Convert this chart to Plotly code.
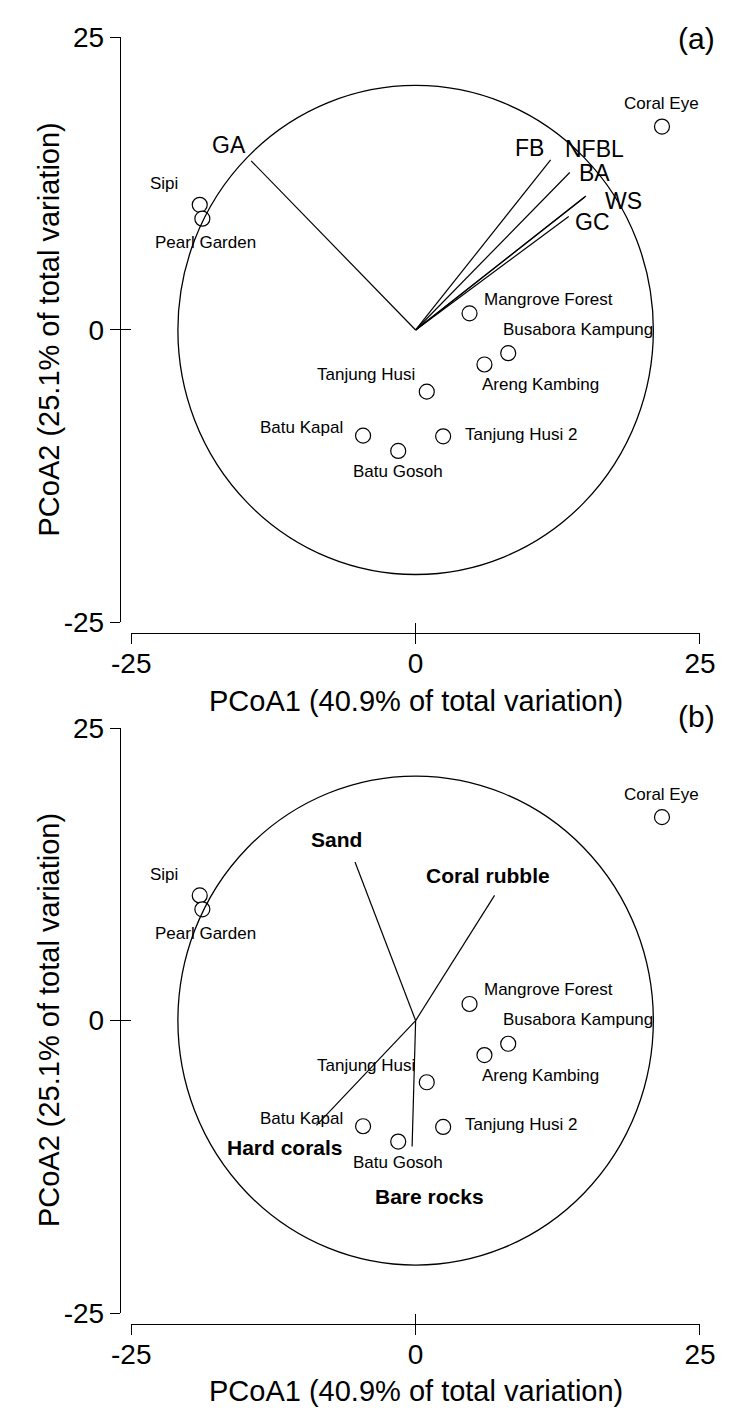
import plotly.graph_objects as go

W, H = 735, 1422

# Site scores on the first two principal coordinates
sites = ["Coral Eye", "Sipi", "Pearl Garden", "Mangrove Forest", "Busabora Kampung",
         "Areng Kambing", "Tanjung Husi", "Batu Kapal", "Batu Gosoh", "Tanjung Husi 2"]
pco1 = [21.66, -18.98, -18.75, 4.74, 8.14, 6.05, 0.98, -4.62, -1.53, 2.42]
pco2 = [17.39, 10.70, 9.51, 1.42, -1.98, -2.95, -5.27, -9.03, -10.34, -9.09]

# Vector overlay (a): fish groups
vec_a_names = ["GA", "FB", "NFBL", "BA", "WS", "GC"]
vec_a_x = [-14.46, 11.87, 13.55, 14.88, 14.97, 13.46]
vec_a_y = [14.46, 14.55, 13.46, 11.37, 11.45, 9.70]

# Vector overlay (b): benthic cover
vec_b_names = ["Sand", "Coral rubble", "Hard corals", "Bare rocks"]
vec_b_x = [-5.33, 6.94, -8.72, -0.31]
vec_b_y = [13.55, 10.70, -8.95, -10.76]

circle_r = 20.9
tick_vals = [-25, 0, 25]
tick_text = ["-25", "0", "25"]
x_title = "PCoA1 (40.9% of total variation)"
y_title = "PCoA2 (25.1% of total variation)"
panel_tags = ["(a)", "(b)"]

FONT = "Liberation Sans, Arial, sans-serif"

# label placement: (xanchor, xshift px, yshift px)
site_label_pos = [
    ("center", 0, 23), ("right", -20, 21), ("center", 3, -24), ("left", 12, 14),
    ("left", -7, 24), ("left", -4, -20), ("right", -10, 17), ("right", -18, 8),
    ("center", 0, -21), ("left", 20, 2),
]
vec_a_label_shift = [(-22, 16), (-21, 12), (25, 24), (10, 24), (38, -5), (24, -6)]
vec_b_label_shift = [(-18, 23), (-7, 20), (-31, -22), (17, -50)]
tag_offset = [1, -12]


def px_x(p):
    return p / W


def px_y(p):
    return 1 - p / H


fig = go.Figure()
annotations = []
shapes = []

panel_tops = [23, 729]
PLOT = 598  # px spanned by -25..25

for i, top in enumerate(panel_tops):
    bot = top + PLOT
    xa = "x" if i == 0 else "x2"
    ya = "y" if i == 0 else "y2"
    xo = "x3" if i == 0 else "x4"
    yo = "y3" if i == 0 else "y4"
    xa_key = "xaxis" if i == 0 else "xaxis2"
    ya_key = "yaxis" if i == 0 else "yaxis2"
    xo_key = "xaxis3" if i == 0 else "xaxis4"
    yo_key = "yaxis3" if i == 0 else "yaxis4"

    common = dict(range=[-25, 25], showgrid=False, zeroline=False,
                  tickvals=tick_vals, ticktext=tick_text, fixedrange=True,
                  tickcolor="black", tickwidth=1.3, ticklen=10)
    fig.layout[xa_key] = dict(common, domain=[px_x(117), px_x(117 + PLOT)],
                              anchor="free", position=px_y(bot + 11),
                              showline=True, linecolor="black", linewidth=1.3,
                              ticks="outside", ticklabelstandoff=-5,
                              tickfont=dict(family=FONT, size=28, color="black"))
    fig.layout[ya_key] = dict(common, domain=[px_y(bot), px_y(top)],
                              anchor="free", position=px_x(105),
                              showline=True, linecolor="black", linewidth=1.3,
                              ticks="outside",
                              tickfont=dict(family=FONT, size=28, color="black"))
    # second set of ticks pointing inward so each tick crosses its axis line
    fig.layout[xo_key] = dict(common, overlaying=xa, anchor="free",
                              position=px_y(bot + 11), ticks="inside",
                              showticklabels=False, showline=False)
    fig.layout[yo_key] = dict(common, overlaying=ya, anchor="free",
                              position=px_x(105), ticks="inside",
                              showticklabels=False, showline=False)
    fig.add_trace(go.Scatter(x=[], y=[], xaxis=xo, yaxis=yo, showlegend=False,
                             hoverinfo="skip"))

    # correlation circle
    shapes.append(dict(type="circle", xref=xa, yref=ya, x0=-circle_r, x1=circle_r,
                       y0=-circle_r, y1=circle_r,
                       line=dict(color="black", width=1.3)))

    # vectors
    names = vec_a_names if i == 0 else vec_b_names
    vx = vec_a_x if i == 0 else vec_b_x
    vy = vec_a_y if i == 0 else vec_b_y
    shifts = vec_a_label_shift if i == 0 else vec_b_label_shift
    lx, ly = [], []
    for x, y in zip(vx, vy):
        lx += [0, x, None]
        ly += [0, y, None]
    fig.add_trace(go.Scatter(x=lx, y=ly, mode="lines", xaxis=xa, yaxis=ya,
                             line=dict(color="black", width=1.2),
                             showlegend=False, hoverinfo="skip", cliponaxis=False))
    for name, x, y, (sx, sy) in zip(names, vx, vy, shifts):
        annotations.append(dict(
            x=x, y=y, xref=xa, yref=ya, text=name if i == 0 else f"<b>{name}</b>",
            showarrow=False, xanchor="center", yanchor="middle",
            xshift=sx, yshift=sy,
            font=dict(family=FONT, size=23 if i == 0 else 21, color="black")))

    # site scores
    fig.add_trace(go.Scatter(x=pco1, y=pco2, mode="markers", xaxis=xa, yaxis=ya,
                             marker=dict(symbol="circle", size=15, color="white",
                                         line=dict(color="black", width=1.2)),
                             showlegend=False, cliponaxis=False, text=sites,
                             hoverinfo="text"))
    for name, x, y, (anc, sx, sy) in zip(sites, pco1, pco2, site_label_pos):
        annotations.append(dict(
            x=x, y=y, xref=xa, yref=ya, text=name, showarrow=False,
            xanchor=anc, yanchor="middle", xshift=sx, yshift=sy,
            font=dict(family=FONT, size=17, color="black")))

    # axis titles and panel tag
    annotations.append(dict(x=px_x(416), y=px_y(bot + 80), xref="paper", yref="paper",
                            text=x_title, showarrow=False, xanchor="center",
                            yanchor="middle",
                            font=dict(family=FONT, size=29, color="black")))
    annotations.append(dict(x=px_x(30), y=px_y(top + 299), xref="paper", yref="paper",
                            text=y_title, showarrow=False, textangle=-90,
                            xanchor="center", yanchor="middle",
                            font=dict(family=FONT, size=29, color="black")))
    annotations.append(dict(x=px_x(733), y=px_y(top + tag_offset[i]), xref="paper",
                            yref="paper", text=panel_tags[i], showarrow=False,
                            xanchor="right", yanchor="middle",
                            font=dict(family=FONT, size=30, color="black")))

fig.update_layout(width=W, height=H, margin=dict(l=0, r=0, t=0, b=0),
                  autosize=False, paper_bgcolor="white", plot_bgcolor="white",
                  annotations=annotations, shapes=shapes, showlegend=False)

fig.write_html("out.html")
